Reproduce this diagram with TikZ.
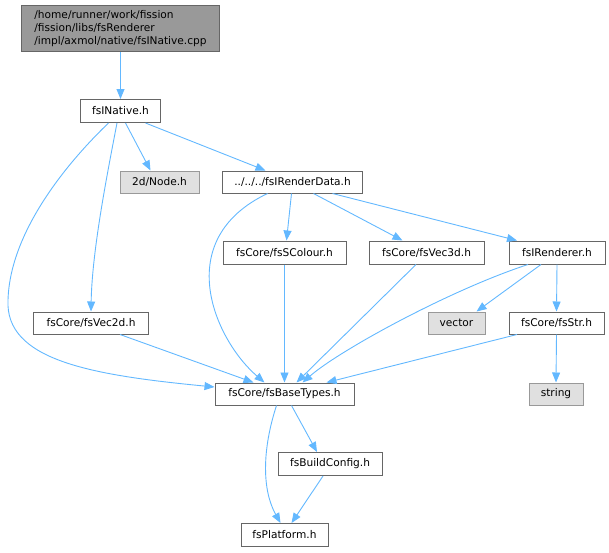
\documentclass[tikz,border=0pt]{standalone}
\usepackage{fontspec}
\setmainfont{DejaVu Sans}
\usetikzlibrary{arrows.meta,calc}
\definecolor{edgeblue}{HTML}{63B8FF}
\definecolor{rootfill}{HTML}{999999}
\definecolor{rootdraw}{HTML}{666666}
\definecolor{sysfill}{HTML}{E0E0E0}
\definecolor{sysdraw}{HTML}{999999}
\tikzset{
  filebox/.style={draw=rootdraw, fill=white, line width=1pt, inner sep=0pt, font=\fontsize{10.6}{12.5}\selectfont},
  sysbox/.style={draw=sysdraw, fill=sysfill, line width=1pt, inner sep=0pt, font=\fontsize{10.6}{12.5}\selectfont},
  rootbox/.style={draw=rootdraw, fill=rootfill, line width=1pt, inner sep=0pt, align=left, font=\fontsize{10.6}{12.8}\selectfont},
  dep/.style={draw=edgeblue, line width=0.9pt, -{Triangle[length=10pt,width=8pt,fill=edgeblue]}}
}
\begin{document}
\begin{tikzpicture}[x=1pt,y=-1pt]
\useasboundingbox (0,0) rectangle (609,552);
\node[rootbox, minimum width=198pt, minimum height=46pt] (cpp) at (120.5,28.5) {/home/runner/work/fission\\/fission/libs/fsRenderer\\/impl/axmol/native/fsINative.cpp};
\node[filebox, minimum width=80pt, minimum height=23pt] (native) at (120.5,111) {fsINative.h};
\node[sysbox, minimum width=79pt, minimum height=22pt] (node) at (159.5,182) {2d/Node.h};
\node[filebox, minimum width=140pt, minimum height=22pt] (rd) at (292.5,182) {../../../fsIRenderData.h};
\node[filebox, minimum width=123pt, minimum height=23pt] (scol) at (284.5,252.5) {fsCore/fsSColour.h};
\node[filebox, minimum width=115pt, minimum height=23pt] (vec3) at (426.5,252.5) {fsCore/fsVec3d.h};
\node[filebox, minimum width=96pt, minimum height=23pt] (rend) at (557,252.5) {fsIRenderer.h};
\node[filebox, minimum width=115pt, minimum height=22pt] (vec2) at (91,323) {fsCore/fsVec2d.h};
\node[sysbox, minimum width=57pt, minimum height=22pt] (vector) at (456.5,323) {vector};
\node[filebox, minimum width=95pt, minimum height=22pt] (str) at (556.5,323) {fsCore/fsStr.h};
\node[filebox, minimum width=139pt, minimum height=22pt] (base) at (284.5,394) {fsCore/fsBaseTypes.h};
\node[sysbox, minimum width=54pt, minimum height=22pt] (string) at (556,394) {string};
\node[filebox, minimum width=104pt, minimum height=23pt] (bc) at (330,464) {fsBuildConfig.h};
\node[filebox, minimum width=87pt, minimum height=23pt] (plat) at (284.5,535) {fsPlatform.h};

\draw[dep] (cpp.south) -- (native.north);
\draw[dep] ($(native.south)+(-12,0)$) .. controls (70,160) and (10,230) .. (8,300) .. controls (5,360) and (90,375) .. ($(base.west)+(0,-7)$);
\draw[dep] ($(native.south)+(-3.5,0)$) .. controls (108,170) and (92,250) .. (vec2.north);
\draw[dep] ($(native.south)+(5,0)$) -- ($(node.north)+(-9,0)$);
\draw[dep] ($(native.south)+(25,0)$) -- ($(rd.north)+(-27,0)$);
\draw[dep] ($(rd.south)+(-25,0)$) .. controls (170,240) and (215,340) .. ($(base.north)+(-20,0)$);
\draw[dep] ($(rd.south)+(-1,0)$) -- ($(scol.north)+(2,0)$);
\draw[dep] ($(rd.south)+(21,0)$) -- ($(vec3.north)+(-24,0)$);
\draw[dep] ($(rd.south)+(40,0)$) -- ($(rend.north)+(-40,0)$);
\draw[dep] (scol.south) -- (base.north);
\draw[dep] ($(vec3.south)+(-10.5,0)$) -- ($(base.north)+(12,0)$);
\draw[dep] ($(rend.south)+(-29,0)$) .. controls (450,290) and (340,350) .. ($(base.north)+(18,0)$);
\draw[dep] ($(rend.south)+(-16,0)$) -- ($(vector.north)+(20,0)$);
\draw[dep] (rend.south) -- (str.north);
\draw[dep] ($(vec2.south)+(29,0)$) -- ($(base.north)+(-31,0)$);
\draw[dep] ($(str.south)+(-39.5,0)$) -- ($(base.north)+(42,0)$);
\draw[dep] (str.south) -- (string.north);
\draw[dep] ($(base.south)+(7,0)$) -- ($(bc.north)+(-13,0)$);
\draw[dep] ($(base.south)+(-8,0)$) .. controls (262,450) and (262,490) .. ($(plat.north)+(-4,0)$);
\draw[dep] ($(bc.south)+(-7,0)$) -- ($(plat.north)+(7,0)$);
\end{tikzpicture}
\end{document}
